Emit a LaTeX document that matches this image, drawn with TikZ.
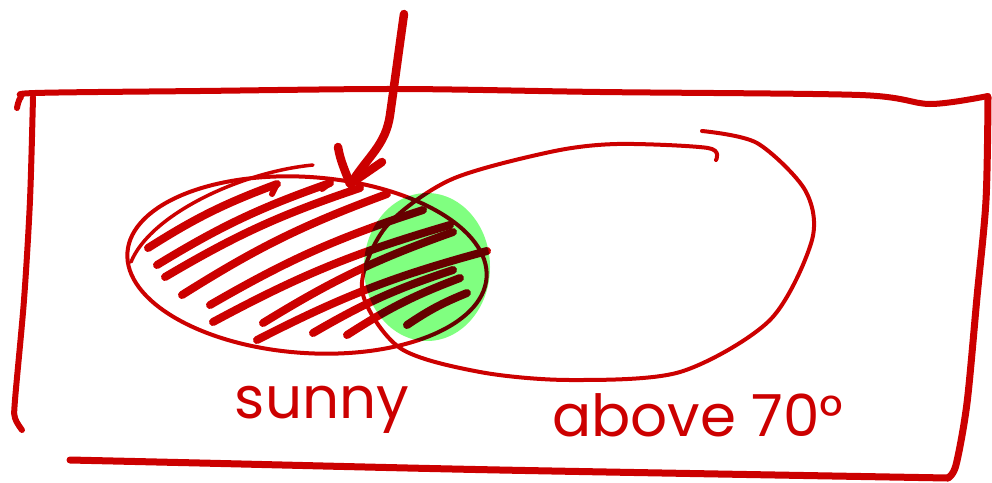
\documentclass[tikz,border=0pt]{standalone}
\usepackage{fontspec}
\setmainfont{Poppins}
\usetikzlibrary{calc}
\definecolor{inkred}{HTML}{CC0000}
\definecolor{hlgreen}{HTML}{80FF80}
\tikzset{
  ink/.style={draw=inkred, line cap=round, line join=round},
  frame/.style={ink, line width=6pt},
  outline/.style={ink, line width=4pt},
  hatch/.style={ink, line width=8pt},
  arrowstroke/.style={ink, line width=8.5pt},
  label/.style={text=inkred, font=\fontsize{58}{60}\selectfont, inner sep=0pt}
}
\begin{document}
\begin{tikzpicture}[x=1pt, y=-1pt]
\useasboundingbox (0,0) rectangle (992,482);
% frame
\draw[frame] plot[smooth] coordinates {(17,108) (21,97) (35,93) (200,91) (400,89) (600,92) (860,95) (930,104) (988,96)};
\draw[frame] plot[smooth] coordinates {(33,97) (30,200) (24,300) (15,400) (15,418) (22,430)};
\draw[frame, line width=7pt] plot[smooth] coordinates {(988,97) (986,200) (977,297) (967,403) (956,465) (948,478)};
\draw[frame, line width=7pt] plot[smooth] coordinates {(70,460) (200,463) (500,470) (948,478)};
% left ellipse (sunny)
\draw[outline] (307,265) ellipse[x radius=180, y radius=88, rotate=-4];
\draw[outline, line width=3.5pt] (131,262) .. controls (150,215) and (240,172) .. (313,165);
% right ellipse (above 70)
\draw[outline] plot[smooth] coordinates {(716,160) (708,148) (617,144) (550,152) (450,180) (385,228) (362,290) (400,348) (480,372) (570,380) (680,372) (770,320) (812,240) (805,190) (757,143) (702,131)};
% hatching
\foreach \ax/\ay/\bx/\by in {
  148/248/277/184,
  157/265/330/183,
  165/277/360/188,
  182/295/387/194,
  210/305/423/210,
  213/322/450/225,
  263/323/453/232,
  257/340/487/251,
  313/333/453/270,
  347/335/460/278,
  407/325/467/293}
  {\draw[hatch] (\ax,\ay) to[bend left=6] (\bx,\by);}
% small hooks
\draw[hatch, line width=6pt] (277,184) -- (272,194);
\draw[hatch, line width=6pt] (330,183) -- (322,189);
\draw[hatch, line width=6pt] (182,295) -- (188,292);
% arrow
\draw[arrowstroke] (404,14) to[out=-98,in=82] (390,115) to[out=-98,in=58] (352,182);
\draw[arrowstroke] (338,147) to[out=-80,in=110] (350,184) -- (382,162);
% green highlight
\begin{scope}[blend mode=multiply]
\fill[hlgreen] (427,267) ellipse[x radius=63, y radius=74];
\end{scope}
% labels
\node[label, anchor=base] (sunny) at (322,418) {sunny};
\node[label, anchor=base west] (above) at (552,436) {above 70°};
\end{tikzpicture}
\end{document}
